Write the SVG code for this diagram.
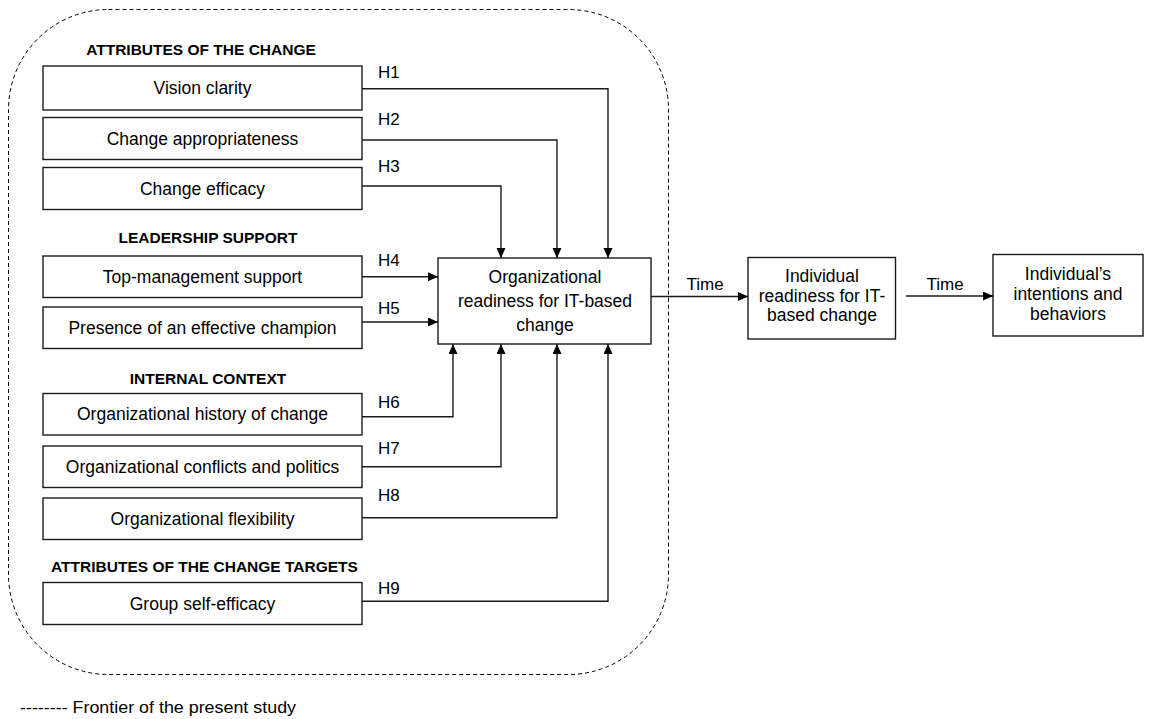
<svg xmlns="http://www.w3.org/2000/svg" width="1153" height="719" viewBox="0 0 1153 719">
<defs>
<marker id="arr" markerUnits="userSpaceOnUse" markerWidth="11" markerHeight="10" refX="10" refY="4.5" orient="auto">
<path d="M0,0 L10,4.5 L0,9 z" fill="#000"/>
</marker>
<style>
.box{fill:#fff;stroke:#1a1a1a;stroke-width:1.4}
.t{font-family:"Liberation Sans",Arial,sans-serif;font-size:17.5px;fill:#000;text-anchor:middle}
.h{font-family:"Liberation Sans",Arial,sans-serif;font-size:15.5px;font-weight:bold;fill:#000;text-anchor:middle}
.lbl{font-family:"Liberation Sans",Arial,sans-serif;font-size:17px;fill:#000}
.c{fill:none;stroke:#1a1a1a;stroke-width:1.4}
.ca{fill:none;stroke:#1a1a1a;stroke-width:1.4;marker-end:url(#arr)}
</style>
</defs>
<rect x="0" y="0" width="1153" height="719" fill="#fff"/>

<g id="frontier">
<rect x="8.5" y="9.5" width="660" height="665" rx="100" ry="100" fill="none" stroke="#000" stroke-width="1" stroke-dasharray="4,3"/>
</g>

<g id="headers">
<text class="h" x="201" y="55">ATTRIBUTES OF THE CHANGE</text>
<text class="h" x="208" y="243">LEADERSHIP SUPPORT</text>
<text class="h" x="208" y="384">INTERNAL CONTEXT</text>
<text class="h" x="204.5" y="572">ATTRIBUTES OF THE CHANGE TARGETS</text>
</g>

<g id="n-vision"><rect class="box" x="43" y="66" width="319" height="44"/><text class="t" x="202.5" y="94">Vision clarity</text></g>
<g id="n-appropriateness"><rect class="box" x="43" y="117.5" width="319" height="42"/><text class="t" x="202.5" y="144.5">Change appropriateness</text></g>
<g id="n-efficacy"><rect class="box" x="43" y="167.5" width="319" height="42"/><text class="t" x="202.5" y="194.5">Change efficacy</text></g>
<g id="n-topmgmt"><rect class="box" x="43" y="256" width="319" height="41.5"/><text class="t" x="202.5" y="282.5">Top-management support</text></g>
<g id="n-champion"><rect class="box" x="43" y="307" width="319" height="41.5"/><text class="t" x="202.5" y="333.5">Presence of an effective champion</text></g>
<g id="n-history"><rect class="box" x="43" y="393.5" width="319" height="41.5"/><text class="t" x="202.5" y="420">Organizational history of change</text></g>
<g id="n-conflicts"><rect class="box" x="43" y="446" width="319" height="41.5"/><text class="t" x="202.5" y="472.5">Organizational conflicts and politics</text></g>
<g id="n-flexibility"><rect class="box" x="43" y="498" width="319" height="41.5"/><text class="t" x="202.5" y="524.5">Organizational flexibility</text></g>
<g id="n-groupeff"><rect class="box" x="43" y="582.5" width="319" height="42"/><text class="t" x="202.5" y="609.5">Group self-efficacy</text></g>

<g id="n-org"><rect class="box" x="438" y="258" width="213" height="86"/>
<text class="t" x="545" y="283">Organizational</text>
<text class="t" x="545" y="307">readiness for IT-based</text>
<text class="t" x="545" y="331">change</text></g>

<g id="n-ind"><rect class="box" x="748" y="257.5" width="147.5" height="81.5"/>
<text class="t" x="822" y="282">Individual</text>
<text class="t" x="822" y="301.5">readiness for IT-</text>
<text class="t" x="822" y="321">based change</text></g>

<g id="n-beh"><rect class="box" x="993" y="254.5" width="150" height="81.5"/>
<text class="t" x="1068" y="280">Individual’s</text>
<text class="t" x="1068" y="300">intentions and</text>
<text class="t" x="1068" y="319.5">behaviors</text></g>

<g id="connectors">
<path class="ca" d="M362,88.7 H608 V258"/>
<path class="ca" d="M362,140 H557 V258"/>
<path class="ca" d="M362,186 H501 V258"/>
<path class="ca" d="M362,276.7 H438"/>
<path class="ca" d="M362,322 H438"/>
<path class="ca" d="M362,416.7 H453 V344"/>
<path class="ca" d="M362,466.7 H501 V344"/>
<path class="ca" d="M362,517.7 H557 V344"/>
<path class="ca" d="M362,601.3 H608 V344"/>
<path class="ca" d="M651,296.5 H748"/>
<path class="ca" d="M906,296 H993"/>
</g>

<g id="labels">
<text class="lbl" x="378" y="78">H1</text>
<text class="lbl" x="378" y="125">H2</text>
<text class="lbl" x="378" y="172">H3</text>
<text class="lbl" x="378" y="266">H4</text>
<text class="lbl" x="378" y="314">H5</text>
<text class="lbl" x="378" y="408">H6</text>
<text class="lbl" x="378" y="454">H7</text>
<text class="lbl" x="378" y="501">H8</text>
<text class="lbl" x="378" y="594">H9</text>
<text class="lbl" x="686.5" y="290">Time</text>
<text class="lbl" x="926.5" y="290">Time</text>
</g>

<g id="legend">
<text class="lbl" x="20" y="713" font-size="17.5" textLength="276" lengthAdjust="spacingAndGlyphs">-------- Frontier of the present study</text>
</g>
</svg>
